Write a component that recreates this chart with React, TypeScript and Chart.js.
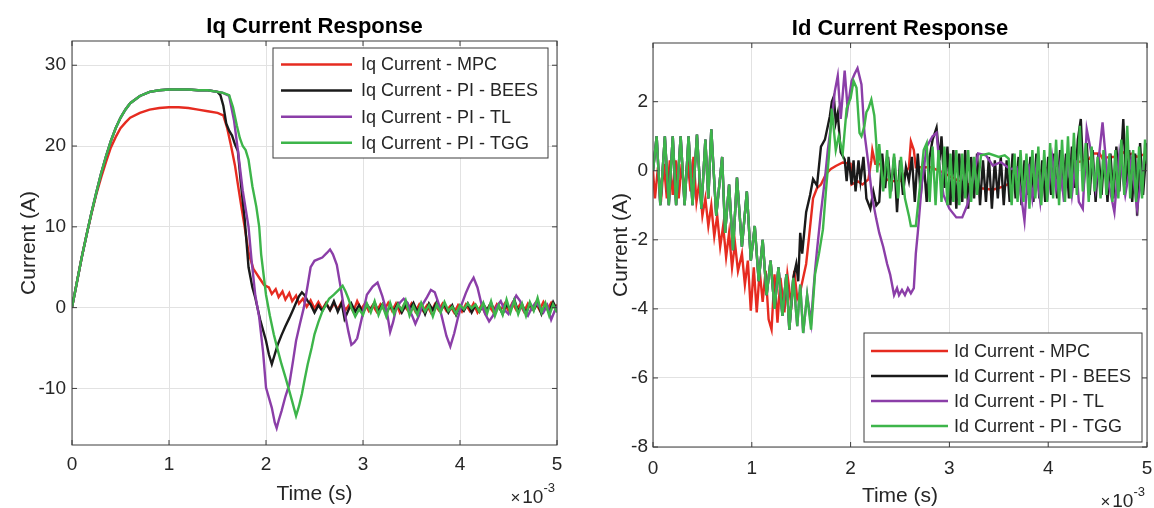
import React, { useEffect, useRef } from "react";
import { Chart, registerables } from "chart.js";

Chart.register(...registerables);

const FONT = "'Liberation Sans', Arial, Helvetica, sans-serif";
const TEXT = "#262626";
const FRAME = "#3c3c3c";
const GRID = "#e2e2e2";

// ---------------- data (time axis in units of 1e-3 s) ----------------
const xTicks = [0, 1, 2, 3, 4, 5];
const iqYTicks = [-10, 0, 10, 20, 30];
const idYTicks = [-8, -6, -4, -2, 0, 2];

const iqLabels = ["Iq Current - MPC", "Iq Current - PI - BEES", "Iq Current - PI - TL", "Iq Current - PI - TGG"];
const idLabels = ["Id Current - MPC", "Id Current - PI - BEES", "Id Current - PI - TL", "Id Current - PI - TGG"];
const seriesColors = ["#e62b20", "#1a1a1a", "#8b3ea8", "#3db54a"];
// drawing order: lower value is painted on top (TGG on top, MPC at the bottom)
const seriesOrder = [3, 2, 1, 0];

type P = [number, number];

// Iq - MPC
const iqMpc: P[] = [
  [0, 0], [0.05, 3.1], [0.1, 6.2], [0.15, 9.0], [0.2, 11.6], [0.25, 14.0], [0.3, 16.1], [0.35, 18.0], [0.4, 19.8],
  [0.45, 21.1], [0.5, 22.2], [0.55, 22.9], [0.6, 23.5], [0.7, 24.1], [0.8, 24.5], [0.9, 24.7], [1.0, 24.8], [1.1, 24.8],
  [1.2, 24.7], [1.3, 24.5], [1.4, 24.3], [1.5, 24.1], [1.56, 23.8], [1.6, 22.2], [1.64, 20.0], [1.68, 17.6], [1.72, 14.5],
  [1.75, 12.2], [1.78, 10.0], [1.82, 6.8], [1.87, 4.8], [1.93, 3.7], [1.98, 2.8], [2.03, 2.5], [2.06, 1.7], [2.1, 2.3],
  [2.13, 1.3], [2.17, 2.0], [2.2, 1.0], [2.24, 1.8], [2.27, 0.8], [2.31, 1.5], [2.34, 0.5], [2.38, 1.1], [2.42, 0.1],
  [2.46, 0.9], [2.5, -0.1], [2.54, 0.7], [2.58, -0.2], [2.62, 0.6], [2.66, -0.3], [2.7, 0.5], [2.74, -0.2], [2.78, 0.7],
  [2.82, -0.3], [2.86, 0.4], [2.9, -0.5], [2.94, 0.8], [2.98, -0.2], [3.02, 0.5], [3.06, -0.4], [3.1, 0.3], [3.14, -0.5],
  [3.18, 0.4], [3.22, -0.3], [3.26, 0.6], [3.3, -0.4], [3.34, 0.5], [3.38, -0.6], [3.42, 0.3], [3.46, -0.3], [3.5, 0.5],
  [3.54, -0.5], [3.58, 0.4], [3.62, -0.4], [3.66, 0.3], [3.7, -0.6], [3.74, 0.4], [3.78, -0.3], [3.82, 0.5], [3.86, -0.4],
  [3.9, 0.2], [3.94, -0.6], [3.98, 0.3], [4.02, -0.5], [4.06, 0.4], [4.1, -0.4], [4.14, 0.5], [4.18, -0.6], [4.22, 0.3],
  [4.26, -0.7], [4.3, 0.2], [4.34, -0.5], [4.38, 0.4], [4.42, -0.3], [4.46, 0.5], [4.5, -0.4], [4.54, 0.6], [4.58, -0.3],
  [4.62, 0.4], [4.66, -0.5], [4.7, 0.5], [4.74, -0.2], [4.78, 0.6], [4.82, -0.3], [4.86, 0.7], [4.9, -0.2], [4.94, 0.6],
  [4.98, -0.1], [5.0, 0.4],
];

// Iq - shared start-up of the three PI controllers
const iqPiRise: P[] = [
  [0, 0], [0.05, 3.1], [0.1, 6.2], [0.15, 9.0], [0.2, 11.7], [0.25, 14.2], [0.3, 16.6], [0.35, 18.7], [0.4, 20.6],
  [0.45, 22.2], [0.5, 23.5], [0.55, 24.5], [0.6, 25.3], [0.7, 26.2], [0.8, 26.7], [0.9, 26.9], [1.0, 27.0], [1.1, 27.0],
  [1.2, 27.0], [1.3, 26.9], [1.4, 26.9], [1.5, 26.7],
];

const iqBeesTail: P[] = [
  [1.53, 26.3], [1.56, 25.0], [1.59, 22.8], [1.62, 21.9], [1.65, 21.3], [1.68, 20.2], [1.71, 19.4], [1.74, 15.5],
  [1.78, 11.0], [1.82, 5.0], [1.86, 2.5], [1.89, 1.2], [1.94, -1.5], [2.0, -4.1], [2.03, -5.8], [2.06, -7.0], [2.09, -5.8],
  [2.12, -4.6], [2.16, -3.4], [2.2, -2.3], [2.24, -1.3], [2.27, -0.5], [2.31, 0.6], [2.34, 1.4], [2.37, 1.9], [2.4, 1.5],
  [2.43, 0.8], [2.46, 0.4], [2.5, -0.6], [2.54, 0.3], [2.58, -0.4], [2.62, 0.5], [2.66, -0.3], [2.7, 0.8], [2.74, -0.5],
  [2.78, 0.6], [2.81, -1.4], [2.85, -0.3], [2.88, 0.5], [2.92, -0.5], [2.96, 0.3], [3.0, -0.6], [3.04, 0.4], [3.08, -0.3],
  [3.12, 0.6], [3.16, -0.5], [3.2, 0.4], [3.24, -0.7], [3.28, 0.2], [3.32, -0.4], [3.36, 0.5], [3.4, -0.6], [3.44, 0.3],
  [3.48, -0.2], [3.52, 0.6], [3.56, -0.5], [3.6, 0.4], [3.64, -0.8], [3.68, 0.5], [3.72, -0.3], [3.76, 0.7], [3.8, -0.4],
  [3.84, 0.4], [3.88, -0.6], [3.92, 0.3], [3.96, -0.9], [4.0, 0.2], [4.04, -0.4], [4.08, 0.5], [4.12, -0.6], [4.16, 0.3],
  [4.2, -0.5], [4.24, 0.4], [4.28, -0.3], [4.32, 0.6], [4.36, -0.6], [4.4, 0.2], [4.44, -0.8], [4.48, 0.4], [4.52, -0.3],
  [4.56, 1.0], [4.6, -0.5], [4.64, 0.4], [4.68, -0.7], [4.72, 0.5], [4.76, -0.3], [4.8, 0.6], [4.84, -0.8], [4.88, 0.4],
  [4.92, -0.5], [4.96, 0.7], [5.0, -0.3],
];

const iqTlTail: P[] = [
  [1.55, 26.6], [1.62, 26.2], [1.64, 25.0], [1.67, 23.2], [1.71, 19.5], [1.76, 14.5], [1.82, 10.0], [1.85, 6.0],
  [1.89, 1.5], [1.93, -1.2], [1.97, -5.5], [2.0, -9.9], [2.06, -12.4], [2.09, -14.2], [2.11, -14.9], [2.13, -14.0],
  [2.16, -12.8], [2.2, -11.0], [2.24, -9.5], [2.28, -6.5], [2.31, -4.1], [2.35, -2.0], [2.39, 0.0], [2.43, 2.8],
  [2.46, 5.0], [2.5, 5.8], [2.54, 6.0], [2.58, 6.2], [2.63, 6.8], [2.66, 7.2], [2.69, 6.6], [2.73, 5.3], [2.77, 2.5],
  [2.81, -0.5], [2.85, -3.0], [2.88, -4.6], [2.91, -4.3], [2.94, -3.8], [2.99, -1.2], [3.04, 1.6], [3.1, 2.6], [3.15, 3.1],
  [3.2, 1.4], [3.25, -0.8], [3.28, -3.0], [3.31, -1.8], [3.34, -0.2], [3.38, 0.6], [3.42, 1.1], [3.46, 0.6], [3.5, -0.8],
  [3.54, -2.0], [3.58, -0.9], [3.62, 0.5], [3.66, 1.3], [3.7, 2.2], [3.74, 1.9], [3.78, 0.5], [3.82, -1.5], [3.86, -3.5],
  [3.9, -4.8], [3.94, -3.2], [3.98, -1.2], [4.02, 0.5], [4.06, 1.8], [4.1, 2.9], [4.14, 3.7], [4.18, 2.5], [4.22, 0.5],
  [4.26, -0.8], [4.3, -1.7], [4.34, -1.0], [4.38, 0.2], [4.42, 0.8], [4.46, -0.3], [4.5, -0.8], [4.54, 0.5], [4.58, 1.5],
  [4.62, 0.8], [4.66, -0.4], [4.7, -1.0], [4.74, 0.0], [4.78, 0.6], [4.82, 0.1], [4.86, -0.6], [4.9, 0.3], [4.94, -1.5],
  [4.98, -0.3], [5.0, 0.2],
];

const iqTggTail: P[] = [
  [1.55, 26.6], [1.62, 26.3], [1.66, 24.8], [1.7, 22.5], [1.73, 21.0], [1.76, 20.0], [1.79, 19.5], [1.82, 18.3],
  [1.86, 15.0], [1.9, 12.5], [1.93, 10.0], [1.95, 6.6], [2.0, 1.6], [2.04, -1.0], [2.08, -3.3], [2.12, -5.2], [2.16, -7.0],
  [2.2, -8.6], [2.24, -10.3], [2.27, -11.6], [2.31, -13.4], [2.34, -12.2], [2.37, -10.7], [2.4, -8.8], [2.43, -7.0],
  [2.47, -5.0], [2.5, -3.3], [2.54, -1.8], [2.58, -0.5], [2.62, 0.4], [2.65, 1.1], [2.7, 1.6], [2.75, 2.2], [2.79, 2.7],
  [2.82, 2.0], [2.85, 1.1], [2.88, 0.0], [2.92, -1.1], [2.96, -0.2], [3.0, -0.9], [3.04, 0.5], [3.08, -0.6], [3.12, 0.8],
  [3.16, -0.9], [3.2, 0.3], [3.24, -1.1], [3.28, 0.6], [3.32, -0.8], [3.36, 0.4], [3.4, -0.3], [3.44, 0.9], [3.48, -1.0],
  [3.52, 0.2], [3.56, -0.9], [3.6, 0.6], [3.64, -0.5], [3.68, 0.3], [3.72, -1.1], [3.76, 0.4], [3.8, -0.6], [3.84, 0.7],
  [3.88, -0.4], [3.92, 0.1], [3.96, -0.8], [4.0, 0.3], [4.04, -0.2], [4.08, 0.5], [4.12, -0.1], [4.16, 0.4], [4.2, -0.5],
  [4.24, 0.6], [4.28, -0.7], [4.32, 0.8], [4.36, -1.0], [4.4, 0.3], [4.44, -0.9], [4.48, 1.0], [4.52, -0.6], [4.56, 0.9],
  [4.6, -0.8], [4.64, 0.5], [4.68, -1.0], [4.72, 0.7], [4.76, -0.4], [4.8, 1.2], [4.84, -0.6], [4.88, 0.6], [4.92, -1.0],
  [4.96, 0.4], [5.0, -0.6],
];

// Id - MPC
const idMpc: P[] = [
  [0, 0], [0.02, -0.8], [0.05, 0.1], [0.08, -0.9], [0.11, 0.2], [0.14, -0.8], [0.17, 0.3], [0.2, -0.7], [0.23, 0.3],
  [0.26, -0.8], [0.29, 0.2], [0.32, -0.7], [0.35, 0.3], [0.38, -0.6], [0.41, 0.4], [0.44, -0.9], [0.47, -0.3], [0.5, -1.3],
  [0.53, -0.8], [0.56, -1.6], [0.59, -1.0], [0.62, -1.9], [0.65, -1.3], [0.68, -2.2], [0.71, -1.6], [0.74, -2.5],
  [0.77, -1.8], [0.8, -2.8], [0.83, -2.1], [0.86, -2.9], [0.9, -2.4], [0.93, -3.3], [0.96, -2.6], [0.99, -4.05],
  [1.02, -2.8], [1.05, -4.1], [1.08, -2.9], [1.11, -3.8], [1.14, -2.9], [1.17, -4.3], [1.2, -4.6], [1.23, -3.0],
  [1.26, -4.4], [1.29, -3.1], [1.33, -4.1], [1.36, -3.0], [1.4, -3.9], [1.43, -2.9], [1.46, -3.7], [1.49, -3.5],
  [1.52, -3.1], [1.55, -2.7], [1.58, -1.9], [1.62, -0.8], [1.66, -0.5], [1.7, -0.4], [1.75, -0.1], [1.8, 0.05],
  [1.85, 0.14], [1.92, 0.24], [2.0, 0.2], [2.01, -0.4], [2.07, -0.3], [2.12, -0.4], [2.18, -0.25], [2.21, 0.3],
  [2.22, 0.6], [2.25, 0.2], [2.3, 0.2], [2.33, -0.2], [2.4, -0.3], [2.5, -0.3], [2.59, 0.1], [2.61, 0.85], [2.64, 0.6],
  [2.66, 0.1], [2.75, 0.1], [2.81, 0.1], [2.9, 0.0], [3.0, -0.15], [3.1, -0.3], [3.2, -0.4], [3.3, -0.5], [3.44, -0.55],
  [3.55, -0.45], [3.65, -0.3], [3.75, -0.2], [3.85, -0.1], [3.92, 0.0], [4.0, 0.1], [4.1, 0.15], [4.2, 0.2], [4.3, 0.25],
  [4.37, 0.3], [4.42, 0.35], [4.45, 0.5], [4.52, 0.5], [4.55, 0.35], [4.62, 0.4], [4.7, 0.4], [4.75, 0.55], [4.8, 0.45],
  [4.85, 0.5], [4.9, 0.4], [4.95, 0.45], [5.0, 0.5],
];

// Id - shared early part of the three PI controllers
const idPiEarly: P[] = [
  [0, 0], [0.037, 1.0], [0.074, -1.0], [0.12, 1.0], [0.16, -1.0], [0.2, 1.0], [0.234, -1.0], [0.28, 1.0], [0.32, -1.0],
  [0.36, 1.0], [0.4, -1.0], [0.445, 1.05], [0.49, -1.1], [0.53, 0.9], [0.56, -0.8], [0.59, 1.2], [0.64, -1.3], [0.7, 0.4],
  [0.73, -1.8], [0.77, -0.4], [0.81, -2.3], [0.85, -0.2], [0.9, -2.2], [0.95, -0.6], [0.99, -2.6], [1.03, -1.6],
  [1.07, -3.2], [1.11, -2.0], [1.15, -3.6], [1.19, -2.6], [1.23, -4.0], [1.27, -2.8], [1.31, -4.2], [1.35, -3.0],
  [1.38, -4.6], [1.42, -3.1],
];

const idBeesLate: P[] = [
  [1.45, -2.7], [1.47, -3.2], [1.49, -1.8], [1.51, -2.4], [1.55, -1.2], [1.59, -0.7], [1.62, -0.24], [1.66, -0.43],
  [1.7, 0.7], [1.74, 0.9], [1.77, 1.3], [1.79, 1.58], [1.81, 2.0], [1.83, 2.15], [1.85, 1.4], [1.87, 1.67], [1.9, 0.53],
  [1.94, 0.33], [1.96, -0.3], [1.98, 0.4], [2.01, -0.4], [2.03, 0.3], [2.05, -0.6], [2.08, 0.3], [2.1, -0.3], [2.13, 0.4],
  [2.16, -0.8], [2.2, -1.1], [2.23, -0.6], [2.26, -1.0], [2.29, -0.9], [2.32, 0.5], [2.35, -0.5], [2.38, 0.4], [2.41, -0.6],
  [2.44, 0.4], [2.47, -1.2], [2.5, 0.3], [2.53, -0.7], [2.56, 0.1], [2.59, -0.3], [2.62, 0.4], [2.65, -0.9], [2.68, 0.5],
  [2.71, -0.7], [2.74, 0.3], [2.77, -0.9], [2.8, 0.4], [2.83, 0.9], [2.87, 1.25], [2.9, 0.3], [2.92, 1.0], [2.95, -0.5],
  [2.98, 0.7], [3.01, -1.0], [3.04, 0.6], [3.07, -1.1], [3.1, 0.5], [3.13, -0.9], [3.16, 0.6], [3.19, -1.1], [3.22, 0.4],
  [3.25, -0.8], [3.28, 0.5], [3.31, -1.0], [3.34, 0.3], [3.37, -0.9], [3.4, 0.4], [3.43, -1.1], [3.46, 0.3], [3.49, -0.8],
  [3.52, 0.4], [3.55, -1.0], [3.58, 0.3], [3.61, -0.9], [3.64, 0.5], [3.67, -0.8], [3.7, 0.4], [3.73, -1.0], [3.76, 0.3],
  [3.79, -0.7], [3.82, 0.4], [3.85, -0.9], [3.88, 0.5], [3.91, -0.8], [3.94, 0.3], [3.97, -0.9], [4.0, 0.4], [4.03, -0.7],
  [4.06, 0.5], [4.09, -0.8], [4.12, 0.6], [4.15, -0.6], [4.18, 0.5], [4.21, -0.8], [4.24, 0.7], [4.27, -0.5], [4.3, 0.9],
  [4.33, 1.5], [4.36, -0.4], [4.39, 0.8], [4.42, -0.7], [4.45, 0.6], [4.48, -0.9], [4.51, 0.5], [4.54, -0.7], [4.57, 0.6],
  [4.6, -0.9], [4.63, 0.5], [4.66, -0.8], [4.69, 0.7], [4.72, -0.6], [4.76, 1.5], [4.79, -0.4], [4.82, 0.6], [4.85, -0.9],
  [4.88, 0.5], [4.9, -1.3], [4.93, 0.8], [4.96, -0.7], [5.0, 0.8],
];

const idTlLate: P[] = [
  [1.46, -4.5], [1.49, -3.3], [1.52, -4.7], [1.56, -3.6], [1.6, -4.4], [1.62, -3.6], [1.64, -2.9], [1.66, -2.3],
  [1.7, -1.2], [1.74, -0.24], [1.77, 0.62], [1.81, 1.5], [1.84, 2.3], [1.87, 2.75], [1.9, 1.5], [1.94, 2.9], [1.97, 1.8],
  [2.01, 2.6], [2.04, 2.8], [2.07, 2.97], [2.11, 2.5], [2.14, 1.1], [2.18, 0.2], [2.22, -0.8], [2.26, -1.4], [2.29, -1.8],
  [2.33, -2.2], [2.37, -2.7], [2.4, -3.0], [2.44, -3.6], [2.47, -3.4], [2.49, -3.6], [2.52, -3.45], [2.55, -3.6],
  [2.58, -3.4], [2.61, -3.55], [2.64, -3.4], [2.66, -2.4], [2.68, -1.8], [2.72, -0.4], [2.77, 0.7], [2.83, 1.0],
  [2.87, 1.1], [2.9, 0.15], [2.94, -0.7], [3.0, -1.1], [3.07, -1.35], [3.13, -1.35], [3.18, -1.0], [3.24, -0.24],
  [3.29, 0.5], [3.37, 0.45], [3.44, 0.15], [3.52, 0.25], [3.59, 0.1], [3.63, 0.05], [3.68, 0.1], [3.72, -0.6],
  [3.76, -1.45], [3.8, 0.2], [3.84, -0.8], [3.88, 0.1], [3.92, -0.9], [3.96, 0.3], [4.0, -0.6], [4.04, 0.4], [4.08, -0.5],
  [4.12, 0.2], [4.16, -0.9], [4.2, 0.4], [4.24, -0.7], [4.28, 0.3], [4.31, -0.9], [4.35, -1.1], [4.39, 1.2], [4.43, 0.6],
  [4.48, -0.5], [4.55, 1.4], [4.6, -0.2], [4.67, -1.2], [4.72, 0.5], [4.78, -0.7], [4.84, 0.3], [4.9, -1.1], [4.98, 0.5],
  [5.0, 0.3],
];

const idTggLate: P[] = [
  [1.46, -4.5], [1.49, -3.3], [1.52, -4.7], [1.56, -3.6], [1.6, -4.6], [1.64, -3.0], [1.68, -2.4], [1.72, -1.7],
  [1.75, -0.6], [1.78, 0.4], [1.81, 1.8], [1.83, 1.2], [1.85, 0.6], [1.88, 1.0], [1.92, 0.5], [1.96, 1.8], [2.0, 2.1],
  [2.03, 2.6], [2.06, 2.4], [2.09, 1.1], [2.11, 1.0], [2.14, 1.3], [2.16, 1.7], [2.18, 1.8], [2.21, 2.06], [2.24, 1.6],
  [2.26, 0.8], [2.27, -0.05], [2.29, 0.77], [2.33, -0.6], [2.37, 0.6], [2.4, -0.8], [2.44, 0.5], [2.48, -0.8], [2.51, 0.4],
  [2.55, -0.8], [2.59, -1.3], [2.61, -1.6], [2.66, -1.6], [2.7, -0.5], [2.74, 0.6], [2.77, 0.8], [2.8, -0.9], [2.83, 0.7],
  [2.86, -1.0], [2.89, 0.6], [2.92, -0.9], [2.95, 0.7], [2.98, -1.0], [3.01, 0.5], [3.04, -0.9], [3.07, 0.6], [3.1, -1.0],
  [3.13, 0.5], [3.16, -0.8], [3.19, 0.6], [3.22, -0.9], [3.25, 0.4], [3.28, -0.7], [3.32, 0.45], [3.4, 0.5], [3.5, 0.4],
  [3.56, 0.45], [3.6, 0.35], [3.63, -1.0], [3.66, 0.5], [3.69, -0.9], [3.72, 0.6], [3.75, -0.9], [3.78, 0.5], [3.81, -1.1],
  [3.84, 0.6], [3.87, -0.8], [3.9, 0.7], [3.93, -1.0], [3.96, 0.6], [3.99, -0.9], [4.02, 0.8], [4.05, -0.8], [4.08, 0.9],
  [4.11, -1.0], [4.14, 0.9], [4.17, -0.9], [4.2, 1.0], [4.23, -0.8], [4.26, 1.1], [4.29, -0.7], [4.32, 1.3], [4.35, -0.6],
  [4.38, 0.8], [4.41, -0.9], [4.44, 0.7], [4.47, -0.6], [4.5, 0.4], [4.53, -0.8], [4.56, 0.6], [4.59, -0.7], [4.62, 0.5],
  [4.65, -0.9], [4.68, 0.6], [4.71, -0.8], [4.74, 0.9], [4.77, -0.7], [4.8, 1.3], [4.83, -0.8], [4.86, 0.6], [4.89, -0.9],
  [4.92, 0.7], [4.95, -0.8], [4.98, 0.9], [5.0, 0.2],
];

// ---------------- drawing helpers ----------------
const decorPlugin = {
  id: "decor",
  afterDraw(chart: any, _args: any, o: any) {
    const { ctx, chartArea: a, scales } = chart;
    ctx.save();
    // frame
    ctx.strokeStyle = FRAME;
    ctx.lineWidth = 1;
    ctx.strokeRect(a.left, a.top, a.right - a.left, a.bottom - a.top);
    // inward ticks
    ctx.beginPath();
    for (const v of o.xTicks) {
      const px = scales.x.getPixelForValue(v);
      ctx.moveTo(px, a.bottom);
      ctx.lineTo(px, a.bottom - 5);
      ctx.moveTo(px, a.top);
      ctx.lineTo(px, a.top + 5);
    }
    for (const v of o.yTicks) {
      const py = scales.y.getPixelForValue(v);
      ctx.moveTo(a.left, py);
      ctx.lineTo(a.left + 5, py);
      ctx.moveTo(a.right, py);
      ctx.lineTo(a.right - 5, py);
    }
    ctx.stroke();

    const cx = (a.left + a.right) / 2;
    const cy = (a.top + a.bottom) / 2;
    ctx.textBaseline = "alphabetic";

    // title
    ctx.fillStyle = "#000";
    ctx.font = `bold 22px ${FONT}`;
    ctx.textAlign = "center";
    ctx.fillText(o.title, cx, o.titleY);

    // axis labels
    ctx.fillStyle = TEXT;
    ctx.font = `21px ${FONT}`;
    ctx.fillText(o.xLabel, cx, o.xLabelY);
    ctx.save();
    ctx.translate(o.yLabelX, cy);
    ctx.rotate(-Math.PI / 2);
    ctx.fillText(o.yLabel, 0, 0);
    ctx.restore();

    // exponent  x10^-3
    ctx.textAlign = "right";
    ctx.font = `13px ${FONT}`;
    ctx.fillText("-3", o.expRight, o.expY - 11.5);
    const w3 = ctx.measureText("-3").width;
    ctx.font = `19px ${FONT}`;
    ctx.fillText("10", o.expRight - w3, o.expY);
    const w10 = ctx.measureText("10").width;
    ctx.font = `17px ${FONT}`;
    ctx.fillText("\u00d7", o.expRight - w3 - w10 - 2, o.expY);

    // legend
    const L = o.legend;
    ctx.fillStyle = "#fff";
    ctx.fillRect(L.box[0], L.box[1], L.box[2], L.box[3]);
    ctx.strokeStyle = FRAME;
    ctx.lineWidth = 1;
    ctx.strokeRect(L.box[0], L.box[1], L.box[2], L.box[3]);
    ctx.font = `18px ${FONT}`;
    ctx.textAlign = "left";
    ctx.textBaseline = "middle";
    L.labels.forEach((lab: string, i: number) => {
      const y = L.rows[i];
      ctx.strokeStyle = L.colors[i];
      ctx.lineWidth = 2.6;
      ctx.beginPath();
      ctx.moveTo(L.line[0], y);
      ctx.lineTo(L.line[1], y);
      ctx.stroke();
      ctx.fillStyle = TEXT;
      ctx.fillText(lab, L.textX, y + 1);
    });
    ctx.restore();
  },
};

function makeConfig(p: any) {
  return {
    type: "line",
    data: {
      datasets: p.series.map((d: P[], i: number) => ({
        label: p.labels[i],
        data: d,
        order: seriesOrder[i],
        borderColor: seriesColors[i],
        backgroundColor: seriesColors[i],
        borderWidth: 2.4,
        pointRadius: 0,
        tension: 0,
        fill: false,
      })),
    },
    plugins: [decorPlugin],
    options: {
      animation: false,
      responsive: false,
      events: [],
      layout: { padding: { left: 0, right: p.padRight, top: p.padTop, bottom: 0 } },
      plugins: {
        legend: { display: false },
        tooltip: { enabled: false },
        title: { display: false },
        decor: p.decor,
      },
      scales: {
        x: {
          type: "linear",
          min: 0,
          max: 5,
          afterFit: (s: any) => { s.height = p.xHeight; s.paddingLeft = 0; s.paddingRight = 0; },
          afterBuildTicks: (s: any) => { s.ticks = xTicks.map((v) => ({ value: v })); },
          ticks: { font: { family: FONT, size: 19 }, color: TEXT, padding: p.xTickPad, maxRotation: 0, autoSkip: false },
          grid: { color: GRID, lineWidth: 1, drawTicks: false },
          border: { display: false },
        },
        y: {
          type: "linear",
          min: p.ymin,
          max: p.ymax,
          afterFit: (s: any) => { s.width = p.yWidth; s.paddingTop = 0; s.paddingBottom = 0; },
          afterBuildTicks: (s: any) => { s.ticks = p.yTicks.map((v: number) => ({ value: v })); },
          ticks: { font: { family: FONT, size: 19 }, color: TEXT, padding: p.yTickPad, autoSkip: false },
          grid: { color: GRID, lineWidth: 1, drawTicks: false },
          border: { display: false },
        },
      },
    },
  };
}

export default function App() {
  const leftRef = useRef<HTMLCanvasElement>(null);
  const rightRef = useRef<HTMLCanvasElement>(null);

  useEffect(() => {
    const left = new Chart(leftRef.current as HTMLCanvasElement, makeConfig({
      series: [iqMpc, [...iqPiRise, ...iqBeesTail], [...iqPiRise, ...iqTlTail], [...iqPiRise, ...iqTggTail]],
      labels: iqLabels,
      ymin: -17,
      ymax: 33,
      yTicks: iqYTicks,
      padTop: 41,
      padRight: 23,
      yWidth: 72,
      xHeight: 63,
      xTickPad: 8,
      yTickPad: 6,
      decor: {
        xTicks, yTicks: iqYTicks,
        title: "Iq Current Response", titleY: 32.5,
        xLabel: "Time (s)", xLabelY: 500,
        yLabel: "Current (A)", yLabelX: 35,
        expRight: 555, expY: 503,
        legend: {
          box: [273, 48, 275, 110],
          rows: [64.5, 90.5, 116.7, 142.7],
          line: [281, 352],
          textX: 361,
          labels: iqLabels,
          colors: seriesColors,
        },
      },
    }) as any);

    const right = new Chart(rightRef.current as HTMLCanvasElement, makeConfig({
      series: [idMpc, [...idPiEarly, ...idBeesLate], [...idPiEarly, ...idTlLate], [...idPiEarly, ...idTggLate]],
      labels: idLabels,
      ymin: -8,
      ymax: 3.7,
      yTicks: idYTicks,
      padTop: 43,
      padRight: 7,
      yWidth: 73,
      xHeight: 61,
      xTickPad: 10,
      yTickPad: 5,
      decor: {
        xTicks, yTicks: idYTicks,
        title: "Id Current Response", titleY: 34.5,
        xLabel: "Time (s)", xLabelY: 502,
        yLabel: "Current (A)", yLabelX: 46.5,
        expRight: 565, expY: 507,
        legend: {
          box: [284, 333, 278, 109],
          rows: [351, 376, 401, 426],
          line: [291, 368],
          textX: 374,
          labels: idLabels,
          colors: seriesColors,
        },
      },
    }) as any);

    return () => {
      left.destroy();
      right.destroy();
    };
  }, []);

  return (
    <div style={{ position: "fixed", left: 0, top: 0, width: 1154, height: 508, background: "#fff" }}>
      <canvas ref={leftRef} width={580} height={508} style={{ position: "absolute", left: 0, top: 0, width: 580, height: 508 }} />
      <canvas ref={rightRef} width={574} height={508} style={{ position: "absolute", left: 580, top: 0, width: 574, height: 508 }} />
    </div>
  );
}
